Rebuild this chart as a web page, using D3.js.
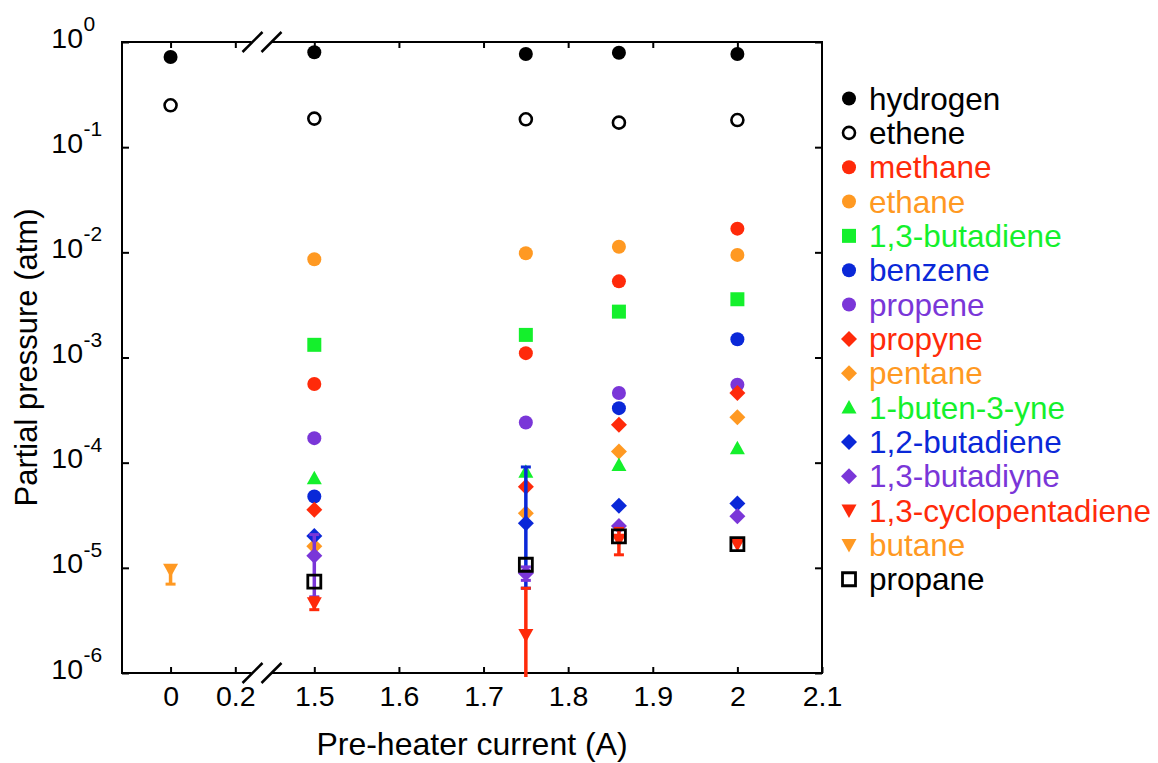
<!DOCTYPE html>
<html><head><meta charset="utf-8">
<script src="https://cdn.jsdelivr.net/npm/d3@7"></script>
<style>
body{margin:0;background:#fff}
svg{display:block}
text{font-family:"Liberation Sans",Arial,Helvetica,sans-serif}
</style>
</head><body>
<svg id="chart" width="1158" height="763"></svg>
<script>
// ---------- data ----------
const currents = [0, 1.5, 1.75, 1.86, 2];
const xTicksLeft = [0, 0.2];
const xTicksRight = [1.5, 1.6, 1.7, 1.8, 1.9, 2, 2.1];
const xTickLabelsLeft = ["0", "0.2"];
const xTickLabelsRight = ["1.5", "1.6", "1.7", "1.8", "1.9", "2", "2.1"];
const yTickExponents = [0, -1, -2, -3, -4, -5, -6];
const xTitle = "Pre-heater current (A)";
const yTitle = "Partial pressure (atm)";

const speciesNames = ["hydrogen", "ethene", "methane", "ethane", "1,3-butadiene", "benzene",
  "propene", "propyne", "pentane", "1-buten-3-yne", "1,2-butadiene", "1,3-butadiyne",
  "1,3-cyclopentadiene", "butane", "propane"];

const hydrogen        = [0.72, 0.80, 0.77, 0.79, 0.77];
const ethene          = [0.25, 0.187, 0.184, 0.171, 0.181];
const methane         = [null, 5.6e-4, 1.1e-3, 5.3e-3, 1.68e-2];
const ethane          = [null, 8.6e-3, 9.8e-3, 1.13e-2, 9.45e-3];
const butadiene13     = [null, 1.32e-3, 1.64e-3, 2.73e-3, 3.58e-3];
const benzene         = [null, 4.76e-5, null, 3.3e-4, 1.49e-3];
const propene         = [null, 1.71e-4, 2.41e-4, 4.6e-4, 5.5e-4];
const propyne         = [null, 3.56e-5, 5.9e-5, 2.29e-4, 4.6e-4];
const pentane         = [null, 1.6e-5, 3.3e-5, 1.28e-4, 2.7e-4];
const butenyne        = [null, 7.1e-5, 8.2e-5, 9.5e-5, 1.37e-4];
const butadiene12     = [null, 2.01e-5, 2.66e-5, 3.9e-5, 4.1e-5];
const butadiyne       = [null, 1.3e-5, 8.9e-6, 2.5e-5, 3.1e-5];
const cyclopentadiene = [null, 4.6e-6, 2.3e-6, 1.85e-5, 1.68e-5];
const butane          = [9.6e-6, null, null, null, null];
const propane         = [null, 7.4e-6, 1.07e-5, 1.99e-5, 1.68e-5];

// error-bar bounds (low, high) per point, null when none
const butaneErrLow           = [7.0e-6, null, null, null, null];
const butaneErrHigh          = [1.05e-5, null, null, null, null];
const butadiyneErrLow        = [null, 5.3e-6, 7.6e-6, null, null];
const butadiyneErrHigh       = [null, 2.07e-5, 1.02e-5, null, null];
const cyclopentadieneErrLow  = [null, 4.0e-6, 0, 1.33e-5, null];
const cyclopentadieneErrHigh = [null, 5.2e-6, 6.4e-6, 2.37e-5, null];
const butadiene12ErrLow      = [null, null, 6.4e-6, null, null];
const butadiene12ErrHigh     = [null, null, 9.1e-5, null, null];

// ---------- styles ----------
const RED = "#ff2a0a", ORANGE = "#ff9922", GREEN = "#14f02c", BLUE = "#0a28d8", PURPLE = "#7a36d8";
const seriesColors = ["#000", "#000", RED, ORANGE, GREEN, BLUE, PURPLE, RED, ORANGE, GREEN, BLUE, PURPLE, RED, ORANGE, "#000"];
const seriesShapes = ["circle", "openCircle", "circle", "circle", "square", "circle", "circle", "diamond",
  "diamond", "triUp", "diamond", "diamond", "triDown", "triDown", "openSquare"];

const seriesValues = [hydrogen, ethene, methane, ethane, butadiene13, benzene, propene, propyne,
  pentane, butenyne, butadiene12, butadiyne, cyclopentadiene, butane, propane];
const seriesErrLow = {11: butadiyneErrLow, 12: cyclopentadieneErrLow, 13: butaneErrLow, 10: butadiene12ErrLow};
const seriesErrHigh = {11: butadiyneErrHigh, 12: cyclopentadieneErrHigh, 13: butaneErrHigh, 10: butadiene12ErrHigh};

// ---------- layout ----------
const L = 122, R = 822, T = 42, B = 673;
const breakL = 251.5, breakR = 272;
const svg = d3.select("#chart");

const xLeft = d3.scaleLinear().domain([-0.15, 0.25]).range([L, breakL]);
const xRight = d3.scaleLinear().domain([1.45, 2.1]).range([breakR, R]);
const xPos = v => v < 1 ? xLeft(v) : xRight(v);
const y = d3.scaleLog().domain([1e-6, 1]).range([B, T]);

function shapePath(shape, s) {
  switch (shape) {
    case "circle": case "openCircle":
      return d3.symbol(d3.symbolCircle, Math.PI * s * s)();
    case "square": case "openSquare":
      return `M${-s},${-s}H${s}V${s}H${-s}Z`;
    case "diamond":
      return `M0,${-s}L${s},0L0,${s}L${-s},0Z`;
    case "triUp":
      return `M0,${-s}L${s},${s * 0.8}L${-s},${s * 0.8}Z`;
    case "triDown":
      return `M0,${s}L${s},${-s * 0.8}L${-s},${-s * 0.8}Z`;
  }
}
const shapeSize = {circle: 7, openCircle: 6, square: 7, openSquare: 6.5, diamond: 8, triUp: 7.5, triDown: 7.5};
function drawMarker(g, shape, color, cx, cy) {
  const p = g.append("path").attr("d", shapePath(shape, shapeSize[shape]))
    .attr("transform", `translate(${cx},${cy})`);
  if (shape === "openCircle") p.attr("fill", "#fff").attr("stroke", color).attr("stroke-width", 2.6);
  else if (shape === "openSquare") p.attr("fill", "none").attr("stroke", color).attr("stroke-width", 2.8);
  else p.attr("fill", color);
}

// ---------- axes ----------
const axisG = svg.append("g");
function styleAxis(g) {
  g.select(".domain").remove();
  g.selectAll("line").attr("stroke", "#000").attr("stroke-width", 2);
  g.selectAll("text").attr("font-size", 28.5).attr("fill", "#000")
    .attr("font-family", '"Liberation Sans",Arial,sans-serif');
}
axisG.append("g").attr("transform", `translate(0,${B})`)
  .call(d3.axisBottom(xLeft).tickValues(xTicksLeft).tickSizeInner(-6).tickSizeOuter(0).tickPadding(13)
    .tickFormat((d, i) => xTickLabelsLeft[i])).call(styleAxis);
axisG.append("g").attr("transform", `translate(0,${B})`)
  .call(d3.axisBottom(xRight).tickValues(xTicksRight).tickSizeInner(-6).tickSizeOuter(0).tickPadding(13)
    .tickFormat((d, i) => xTickLabelsRight[i])).call(styleAxis);
axisG.append("g").attr("transform", `translate(0,${T})`)
  .call(d3.axisTop(xLeft).tickValues(xTicksLeft).tickSizeInner(-6).tickSizeOuter(0).tickFormat("")).call(styleAxis);
axisG.append("g").attr("transform", `translate(0,${T})`)
  .call(d3.axisTop(xRight).tickValues(xTicksRight.slice(0, -1)).tickSizeInner(-6).tickSizeOuter(0).tickFormat("")).call(styleAxis);
const decades = yTickExponents.map(e => Math.pow(10, e));
axisG.append("g").attr("transform", `translate(${L},0)`)
  .call(d3.axisLeft(y).tickValues(decades).tickSizeInner(-7).tickSizeOuter(0).tickFormat("")).call(styleAxis);
axisG.append("g").attr("transform", `translate(${R},0)`)
  .call(d3.axisRight(y).tickValues(decades).tickSizeInner(-7).tickSizeOuter(0).tickFormat("")).call(styleAxis);

// y tick labels 10^n
yTickExponents.forEach((e, i) => {
  const yy = y(decades[i]);
  axisG.append("text").attr("x", 83).attr("y", yy + 5.5).attr("text-anchor", "end")
    .attr("font-size", 28.5).text("10");
  axisG.append("text").attr("x", 83.5).attr("y", yy - 11).attr("text-anchor", "start")
    .attr("font-size", 21).text(String(e));
});

// frame with break
const frame = svg.append("g").attr("stroke", "#000").attr("stroke-width", 2).attr("fill", "none");
frame.append("line").attr("x1", L).attr("x2", L).attr("y1", T - 1).attr("y2", B + 1);
frame.append("line").attr("x1", R).attr("x2", R).attr("y1", T - 1).attr("y2", B + 1);
[T, B].forEach(yy => {
  frame.append("line").attr("x1", L).attr("x2", breakL).attr("y1", yy).attr("y2", yy);
  frame.append("line").attr("x1", breakR).attr("x2", R).attr("y1", yy).attr("y2", yy);
  [breakL + 1, breakR - 0.5].forEach(cx => {
    frame.append("line").attr("x1", cx - 10).attr("y1", yy + 10).attr("x2", cx + 10).attr("y2", yy - 10)
      .attr("stroke-width", 2.5);
  });
});

// axis titles
svg.append("text").attr("x", 472).attr("y", 755).attr("text-anchor", "middle")
  .attr("font-size", 32).text(xTitle);
svg.append("text").attr("transform", `translate(37,${(T + B) / 2}) rotate(-90)`).attr("text-anchor", "middle")
  .attr("font-size", 31).text(yTitle);

// ---------- data marks ----------
const marks = svg.append("g");
seriesValues.forEach((vals, si) => {
  const color = seriesColors[si];
  const g = marks.append("g");
  const lo = seriesErrLow[si], hi = seriesErrHigh[si];
  if (lo) {
    currents.forEach((c, i) => {
      if (lo[i] === null || hi[i] === null) return;
      const cx = xPos(c);
      const yTop = y(hi[i]);
      const clipped = lo[i] <= y.domain()[0];
      const yBot = clipped ? B + 4 : y(lo[i]);
      g.append("line").attr("x1", cx).attr("x2", cx).attr("y1", yTop).attr("y2", yBot)
        .attr("stroke", color).attr("stroke-width", 3.5);
      g.append("line").attr("x1", cx - 5).attr("x2", cx + 5).attr("y1", yTop).attr("y2", yTop)
        .attr("stroke", color).attr("stroke-width", 3);
      if (!clipped) g.append("line").attr("x1", cx - 5).attr("x2", cx + 5).attr("y1", yBot).attr("y2", yBot)
        .attr("stroke", color).attr("stroke-width", 3);
    });
  }
  currents.forEach((c, i) => {
    if (vals[i] === null) return;
    drawMarker(g, seriesShapes[si], color, xPos(c), y(vals[i]));
  });
});

// ---------- legend ----------
const legend = svg.append("g");
const legX = 849, legTextX = 869, legY0 = 98.5, legStep = 34.34;
speciesNames.forEach((name, i) => {
  const cy = legY0 + i * legStep;
  const col = seriesColors[i];
  drawMarker(legend, seriesShapes[i], col, legX, cy);
  legend.append("text").attr("x", legTextX).attr("y", cy + 11).attr("font-size", 31.5)
    .attr("fill", col).text(name);
});
</script>
</body></html>
